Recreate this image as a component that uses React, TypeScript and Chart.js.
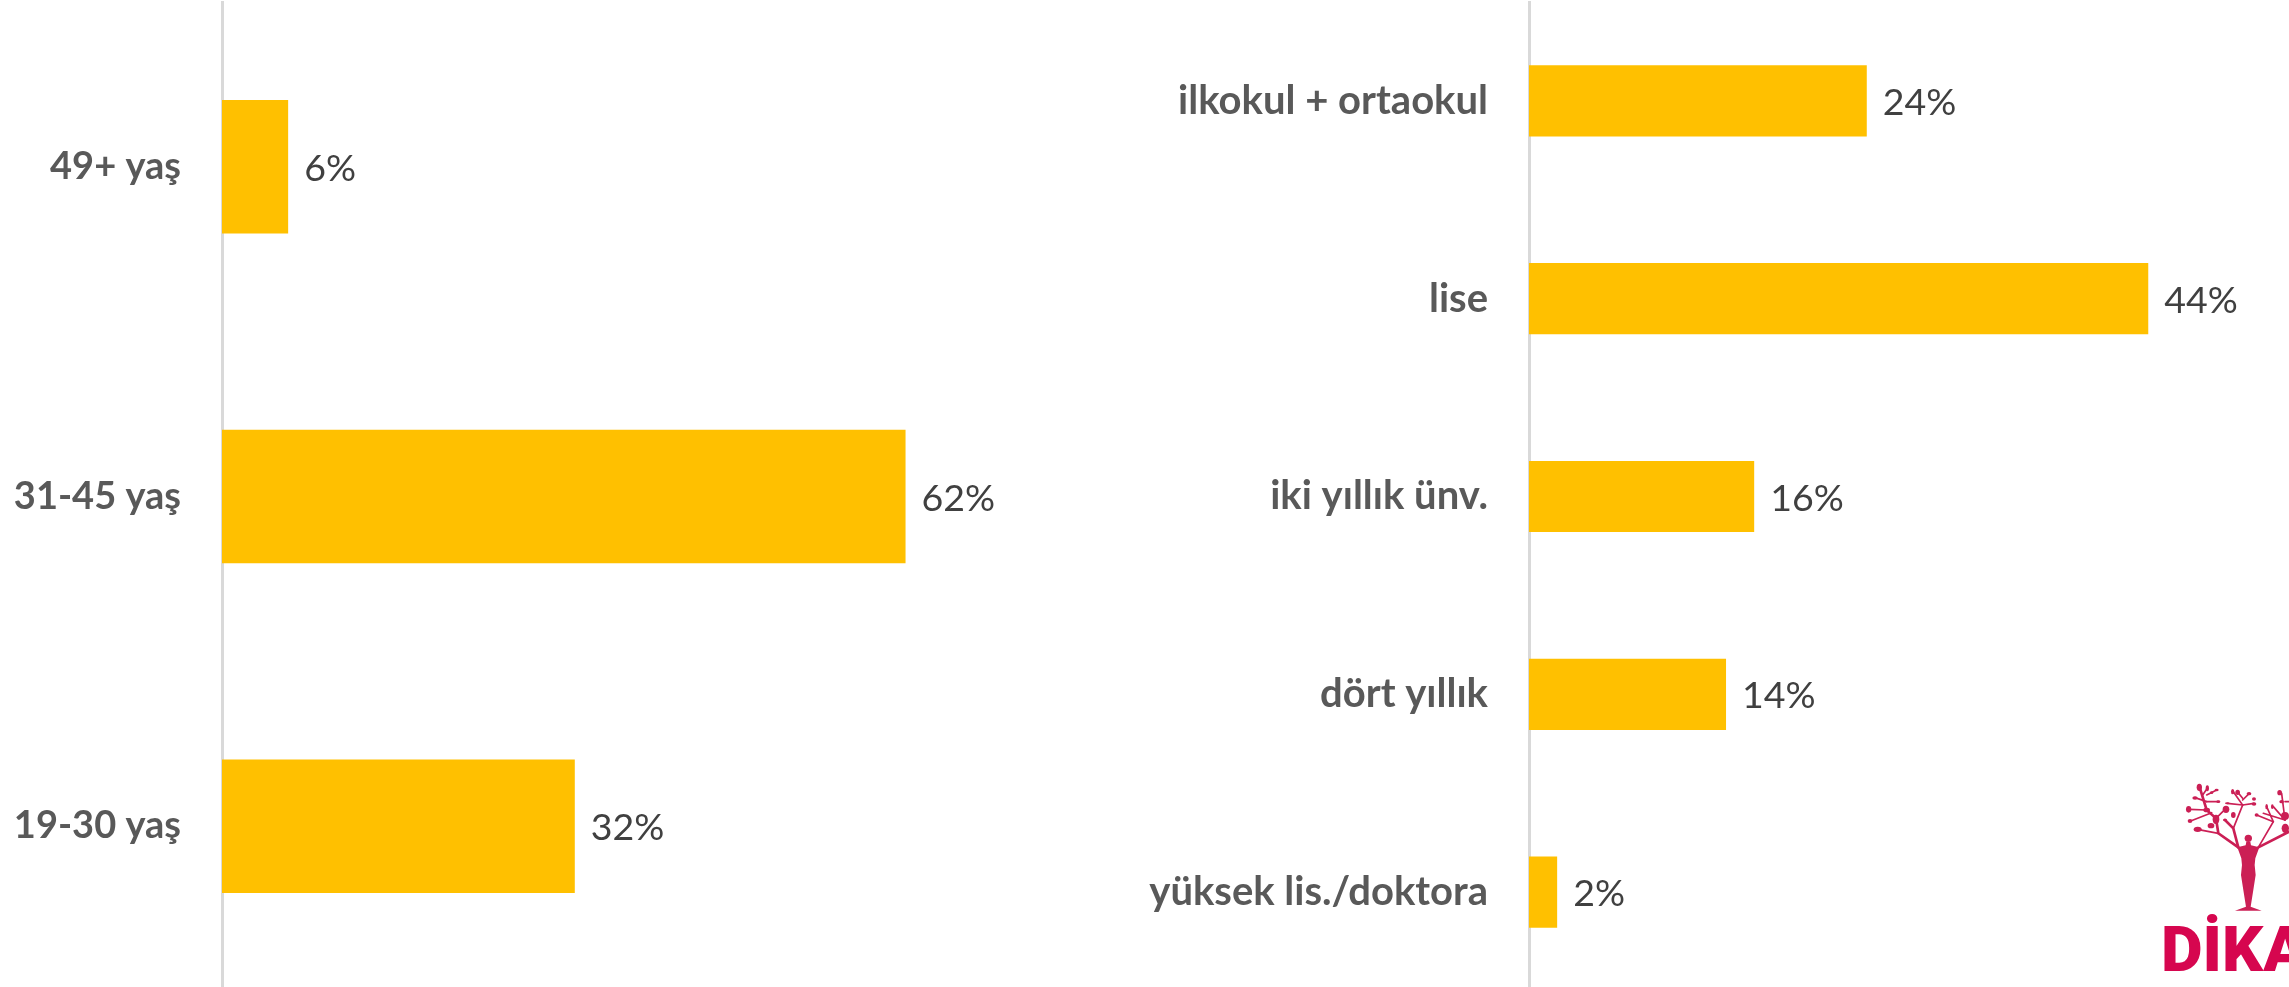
import React, { useEffect, useRef } from "react";
import { Chart, registerables } from "chart.js";

Chart.register(...registerables);

const ageCategories = ["49+ yaş", "31-45 yaş", "19-30 yaş"];
const ageValues = [6, 62, 32];
const eduCategories = ["ilkokul + ortaokul", "lise", "iki yıllık ünv.", "dört yıllık", "yüksek lis./doktora"];
const eduValues = [24, 44, 16, 14, 2];

const BAR = "#FFC000";
const AXIS = "#D9D9D9";
const LABEL = "#595959";
const VALUE = "#404040";
const FONT = "Lato, 'Open Sans', sans-serif";
const H = 987;
const CANVAS_H = 991;

const valueLabels = {
  id: "valueLabels",
  afterDatasetsDraw(chart: any) {
    const { ctx } = chart;
    const meta = chart.getDatasetMeta(0);
    ctx.save();
    ctx.font = `400 37.5px ${FONT}`;
    ctx.fillStyle = VALUE;
    ctx.textAlign = "left";
    ctx.textBaseline = "middle";
    meta.data.forEach((el: any, i: number) => {
      ctx.fillText(`${chart.data.datasets[0].data[i]}%`, el.x + 16, el.y + 2);
    });
    ctx.restore();
  },
};

function Panel({ left, width, axisX, max, cats, vals, thickness, fontSize }: any) {
  const ref = useRef<HTMLCanvasElement>(null);
  useEffect(() => {
    const chart = new Chart(ref.current!, {
      type: "bar",
      data: {
        labels: cats,
        datasets: [{ data: vals, backgroundColor: BAR, barPercentage: 1, categoryPercentage: thickness, borderWidth: 0 }],
      },
      options: {
        indexAxis: "y",
        animation: false,
        responsive: false,
        layout: { autoPadding: false, padding: { top: 2, left: 0, right: 0, bottom: 0 } },
        plugins: { legend: { display: false }, tooltip: { enabled: false }, title: { display: false } },
        scales: {
          x: { display: false, min: 0, max },
          y: {
            afterFit(s: any) {
              s.width = axisX;
              s.paddingTop = 0;
              s.paddingBottom = 0;
            },
            grid: { display: false, drawTicks: false, tickLength: 0 },
            border: { display: true, color: AXIS, width: 3 },
            ticks: {
              padding: 41,
              color: LABEL,
              font: { family: FONT, size: fontSize, weight: "bold" },
              autoSkip: false,
            },
          },
        },
      },
      plugins: [valueLabels],
    } as any);
    return () => chart.destroy();
  }, []);
  return <canvas ref={ref} width={width} height={CANVAS_H} style={{ position: "absolute", left, top: 0, width, height: CANVAS_H }} />;
}

function Logo() {
  const red = "#CB1F55";
  const branches = [
    "M415 262 L355 220 L348 175 L320 150 L300 85",
    "M348 175 L375 148", "M320 150 L268 148", "M335 158 L272 183", "M355 220 L292 208",
    "M320 125 L285 113", "M320 125 L355 125", "M308 105 L322 85", "M320 105 L350 90",
    "M415 262 L400 205 L375 180", "M400 205 L428 135 L400 95", "M428 135 L382 130",
    "M428 135 L462 130", "M428 115 L412 95", "M428 120 L448 100",
    "M475 262 L520 185 L500 140", "M520 185 L470 165", "M475 262 L567 215",
    "M555 180 L490 160", "M555 180 L520 140", "M555 180 L545 100", "M555 125 L567 125",
  ];
  const leaves: [number, number, number, number][] = [
    [298, 82, 8, 11], [322, 85, 5, 9], [350, 90, 6, 4], [335, 98, 5, 4], [285, 114, 8, 5], [355, 125, 6, 4],
    [266, 148, 8, 10], [378, 148, 10, 11], [270, 183, 7, 6], [293, 208, 12, 8], [333, 197, 10, 8],
    [400, 165, 7, 9], [375, 180, 6, 4], [398, 95, 5, 8], [413, 97, 7, 8], [447, 101, 7, 5],
    [462, 117, 6, 5], [382, 130, 7, 3], [462, 132, 7, 5], [470, 165, 6, 5], [500, 140, 4, 8],
    [517, 140, 4, 7], [539, 98, 7, 8], [555, 168, 12, 12], [545, 125, 7, 5],
    [348, 178, 10, 14], [320, 150, 10, 7], [556, 205, 11, 14],
  ];
  return (
    <svg width={2289} height={H} style={{ position: "absolute", left: 0, top: 0, pointerEvents: "none" }}>
      <g transform="translate(2100 760) scale(0.3333)">
        <g stroke={red} strokeLinecap="round" fill="none">
          {branches.map((d, i) => <path key={i} d={d} strokeWidth={i < 1 || i === 9 || i === 17 ? 8 : 5} />)}
        </g>
        {leaves.map(([cx, cy, rx, ry], i) => <ellipse key={i} cx={cx} cy={cy} rx={rx} ry={ry} fill={red} />)}
        <circle cx={445} cy={235} r={11} fill={red} />
        <path
          d="M439 245 L451 245 L453 256 L478 262 L466 295 L464 315 L467 345 L460 390 L452 440 L485 452 L405 452 L438 440 L430 390 L423 345 L426 315 L424 295 L412 262 L437 256 Z"
          fill={red}
        />
      </g>
      <text x={2161} y={971} fontFamily="Roboto, sans-serif" fontWeight={900} fontSize={63} fill="#D6064F" textLength={146} lengthAdjust="spacingAndGlyphs">DİKA</text>
    </svg>
  );
}

export default function App() {
  return (
    <div style={{ position: "fixed", left: 0, top: 0, width: 2289, height: H, overflow: "hidden", background: "#fff" }}>
      <Panel left={0} width={1104} axisX={222} max={80} cats={ageCategories} vals={ageValues} thickness={0.405} fontSize={38} />
      <Panel left={1104} width={1185} axisX={425} max={54} cats={eduCategories} vals={eduValues} thickness={0.36} fontSize={40} />
      <Logo />
    </div>
  );
}
